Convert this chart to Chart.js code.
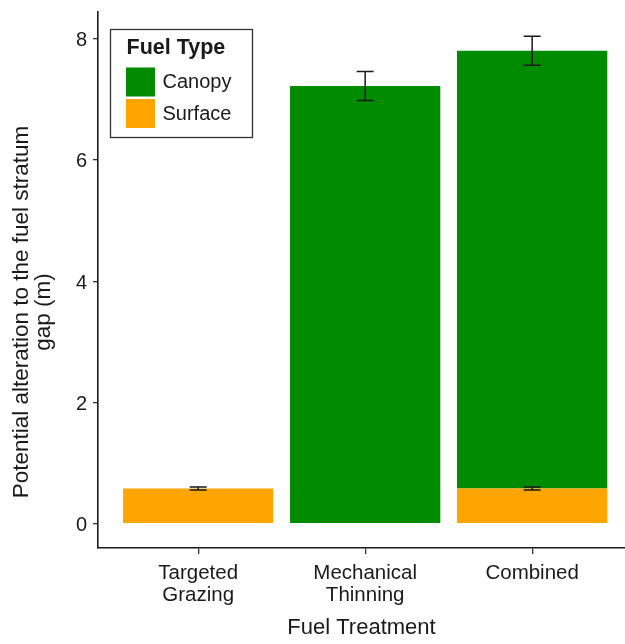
<!DOCTYPE html>
<html>
<head>
<meta charset="utf-8">
<script src="https://cdn.jsdelivr.net/npm/chart.js@4"></script>
<style>
  html, body { margin: 0; padding: 0; background: #ffffff; }
  #wrap { width: 625px; height: 644px; }
</style>
</head>
<body>
<div id="wrap"><canvas id="chart" width="625" height="644"></canvas></div>
<script>
// Fuel treatments and their tick labels
const treatments = ['Targeted Grazing', 'Mechanical Thinning', 'Combined'];
const treatmentLabels = [['Targeted', 'Grazing'], ['Mechanical', 'Thinning'], ['Combined']];

// Mean potential alteration to the fuel stratum gap (m), by fuel type
const surfaceGap = [0.58, 0, 0.58];
const canopyGap = [0, 7.22, 7.22];

// Standard errors for each fuel type
const surfaceErr = [0.025, 0, 0.025];
const canopyErr = [0, 0.24, 0.24];

// Y-axis tick values
const yTicks = [0, 2, 4, 6, 8];

const yTitleLines = ['Potential alteration to the fuel stratum', 'gap (m)'];

const FONT = "'Liberation Sans', Arial, Helvetica, sans-serif";
const INK = '#1a1a1a';
const COLORS = { Canopy: '#008b00', Surface: '#ffa500' };

Chart.defaults.font.family = FONT;
Chart.defaults.color = INK;

const toPoints = arr => arr.map((v, i) => ({ x: i + 1, y: v }));

// Error bars drawn at the top of each stacked segment
const errorBars = {
  id: 'errorBars',
  afterDatasetsDraw(chart) {
    const { ctx, scales: { x, y } } = chart;
    const stacks = [
      { values: surfaceGap, errs: surfaceErr, base: treatments.map(() => 0) },
      { values: canopyGap, errs: canopyErr, base: surfaceGap }
    ];
    ctx.save();
    ctx.strokeStyle = INK;
    ctx.lineWidth = 1.5;
    const cap = 8.5;
    stacks.forEach(s => {
      s.values.forEach((v, i) => {
        if (!v) return;
        const top = s.base[i] + v;
        const px = x.getPixelForValue(i + 1);
        const hi = y.getPixelForValue(top + s.errs[i]);
        const lo = y.getPixelForValue(top - s.errs[i]);
        ctx.beginPath();
        ctx.moveTo(px, hi); ctx.lineTo(px, lo);
        ctx.moveTo(px - cap, hi); ctx.lineTo(px + cap, hi);
        ctx.moveTo(px - cap, lo); ctx.lineTo(px + cap, lo);
        ctx.stroke();
      });
    });
    ctx.restore();
  }
};

// Two-line rotated title for the value axis
const yAxisTitle = {
  id: 'yAxisTitle',
  afterDraw(chart) {
    const { ctx, chartArea } = chart;
    const cy = (chartArea.top + chartArea.bottom) / 2 + 32;
    ctx.save();
    ctx.fillStyle = INK;
    ctx.font = '22.5px ' + FONT;
    ctx.textAlign = 'center';
    ctx.textBaseline = 'middle';
    yTitleLines.forEach((line, k) => {
      ctx.save();
      ctx.translate(22 + k * 22, cy);
      ctx.rotate(-Math.PI / 2);
      ctx.fillText(line, 0, 0);
      ctx.restore();
    });
    ctx.restore();
  }
};

// Boxed legend placed inside the plotting panel
const fuelLegend = {
  id: 'fuelLegend',
  afterDraw(chart) {
    const { ctx, chartArea } = chart;
    const left = chartArea.left + 12.5;
    const top = chartArea.top + 17.5;
    const w = 142, h = 108;
    ctx.save();
    ctx.strokeStyle = '#333333';
    ctx.lineWidth = 1.3;
    ctx.strokeRect(left, top, w, h);
    ctx.fillStyle = INK;
    ctx.font = 'bold 21.5px ' + FONT;
    ctx.textBaseline = 'middle';
    ctx.textAlign = 'left';
    ctx.fillText('Fuel Type', left + 16, top + 19);
    const order = ['Canopy', 'Surface'];
    order.forEach((name, k) => {
      const ds = chart.data.datasets.find(d => d.label === name);
      const sy = top + 38 + k * 31.5;
      ctx.fillStyle = ds.backgroundColor;
      ctx.fillRect(left + 15.5, sy, 29, 29);
      ctx.fillStyle = INK;
      ctx.font = '20px ' + FONT;
      ctx.fillText(name, left + 52, sy + 15);
    });
    ctx.restore();
  }
};

new Chart(document.getElementById('chart'), {
  type: 'bar',
  data: {
    datasets: [
      { label: 'Surface', data: toPoints(surfaceGap), backgroundColor: COLORS.Surface, borderWidth: 0 },
      { label: 'Canopy', data: toPoints(canopyGap), backgroundColor: COLORS.Canopy, borderWidth: 0 }
    ]
  },
  options: {
    responsive: false,
    animation: false,
    devicePixelRatio: 1,
    categoryPercentage: 1.0,
    barPercentage: 0.9,
    layout: { padding: { top: 12, right: 0, bottom: 0, left: 0 } },
    plugins: {
      legend: { display: false },
      tooltip: { enabled: false }
    },
    scales: {
      x: {
        type: 'linear',
        stacked: true,
        offset: false,
        min: 0.4,
        max: 3.556,
        afterBuildTicks(scale) {
          scale.ticks = treatments.map((t, i) => ({ value: i + 1 }));
        },
        afterFit(scale) {
          scale.height = 96;
          scale.paddingLeft = 0;
          scale.paddingRight = 0;
        },
        ticks: {
          callback: v => treatmentLabels[v - 1],
          font: { size: 20.5, lineHeight: 1.08 },
          color: INK,
          padding: 8,
          maxRotation: 0,
          autoSkip: false
        },
        grid: { offset: false, drawOnChartArea: false, drawTicks: true, tickLength: 6, color: '#333333', lineWidth: 1.3 },
        border: { display: true, color: INK, width: 1.6 },
        title: {
          display: true,
          text: 'Fuel Treatment',
          font: { size: 22, lineHeight: 1.1 },
          color: INK,
          padding: { top: 0, bottom: 4 }
        }
      },
      y: {
        stacked: true,
        min: -0.4,
        max: 8.44,
        afterBuildTicks(scale) {
          scale.ticks = yTicks.map(v => ({ value: v }));
        },
        afterFit(scale) {
          scale.width = 98;
          scale.paddingTop = 0;
          scale.paddingBottom = 0;
        },
        ticks: {
          font: { size: 20 },
          color: INK,
          padding: 6,
          labelOffset: 2,
          includeBounds: false
        },
        grid: { drawOnChartArea: false, drawTicks: true, tickLength: 5, color: '#333333', lineWidth: 1.3 },
        border: { display: true, color: INK, width: 1.6 },
        title: { display: false }
      }
    }
  },
  plugins: [errorBars, yAxisTitle, fuelLegend]
});
</script>
</body>
</html>
